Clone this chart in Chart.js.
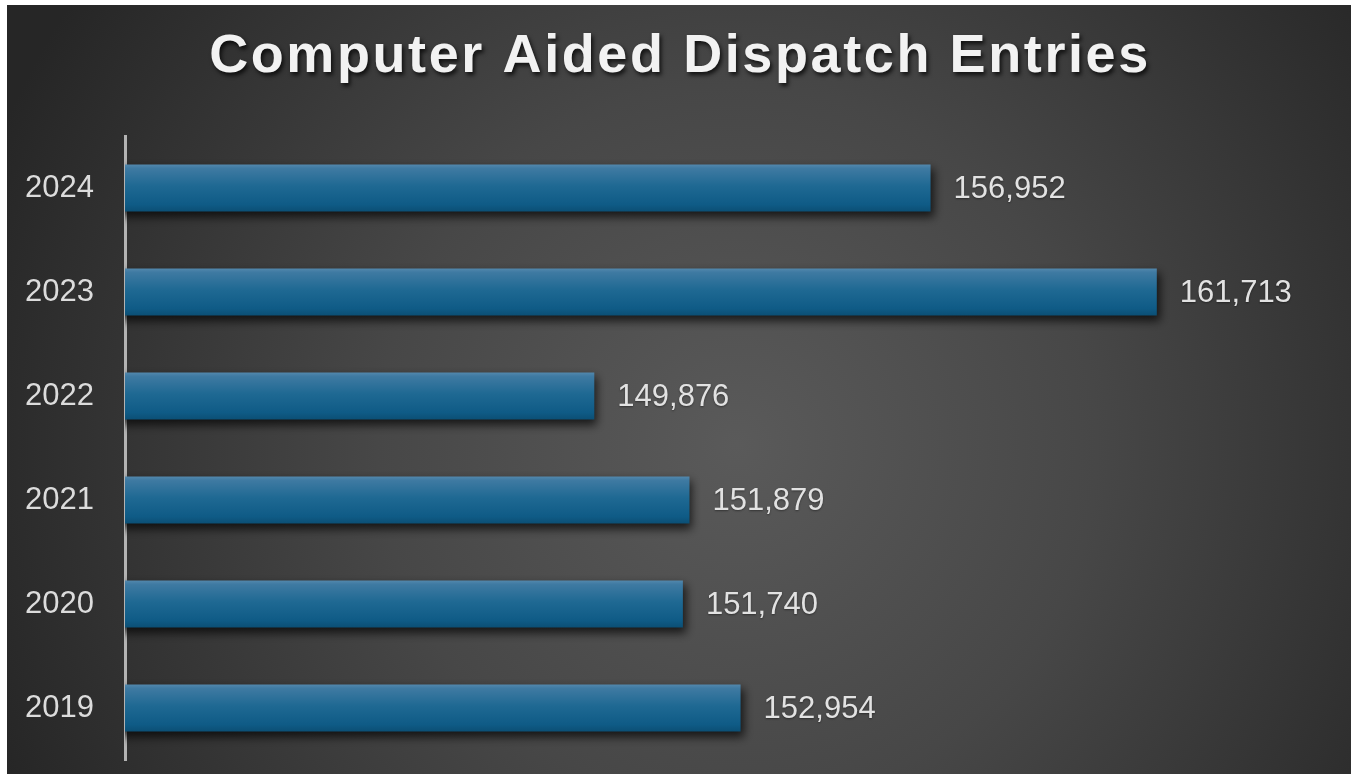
<!DOCTYPE html>
<html>
<head>
<meta charset="utf-8">
<title>Computer Aided Dispatch Entries</title>
<script src="https://cdn.jsdelivr.net/npm/chart.js@4/dist/chart.umd.min.js"></script>
<style>
  html, body { margin: 0; padding: 0; background: #ffffff; }
  #wrap { position: absolute; left: 7px; top: 5px; width: 1344px; height: 769px; }
</style>
</head>
<body>
<div id="wrap"><canvas id="myChart"></canvas></div>
<script>
const chartTitle = 'Computer Aided Dispatch Entries';
const years = ['2024', '2023', '2022', '2021', '2020', '2019'];
const entries = [156952, 161713, 149876, 151879, 151740, 152954];
const axisMin = 140000;
const axisMax = 165000;

/* dark radial backdrop */
const backdrop = {
  id: 'backdrop',
  beforeDraw(chart) {
    const ctx = chart.ctx;
    const w = chart.width, h = chart.height;
    const g = ctx.createRadialGradient(730, 440, 0, 730, 440, 800);
    g.addColorStop(0, '#5a5a5a');
    g.addColorStop(0.45, '#474747');
    g.addColorStop(1, '#262626');
    ctx.save();
    ctx.fillStyle = g;
    ctx.fillRect(0, 0, w, h);
    ctx.restore();
  }
};

/* spaced-out bold title with a drop shadow */
const bigTitle = {
  id: 'bigTitle',
  afterDraw(chart) {
    const ctx = chart.ctx;
    ctx.save();
    ctx.font = 'bold 54px "Liberation Sans", Arial, sans-serif';
    ctx.letterSpacing = '2.6px';
    ctx.textAlign = 'center';
    ctx.textBaseline = 'alphabetic';
    ctx.fillStyle = '#f2f2f2';
    ctx.shadowColor = 'rgba(0,0,0,0.75)';
    ctx.shadowBlur = 4;
    ctx.shadowOffsetX = 2;
    ctx.shadowOffsetY = 3;
    ctx.fillText(chartTitle, chart.width / 2 + 1, 67);
    ctx.restore();
  }
};

/* shadow under the bars */
const barShadow = {
  id: 'barShadow',
  beforeDatasetsDraw(chart) {
    const ctx = chart.ctx;
    ctx.save();
    ctx.shadowColor = 'rgba(0,0,0,0.7)';
    ctx.shadowBlur = 9;
    ctx.shadowOffsetX = 3;
    ctx.shadowOffsetY = 5;
  },
  afterDatasetsDraw(chart) {
    chart.ctx.restore();
  }
};

/* value at the end of each bar */
const valueLabels = {
  id: 'valueLabels',
  afterDatasetsDraw(chart) {
    const ctx = chart.ctx;
    const meta = chart.getDatasetMeta(0);
    ctx.save();
    ctx.font = '31px "Liberation Sans", Arial, sans-serif';
    ctx.fillStyle = '#e2e2e2';
    ctx.textAlign = 'left';
    ctx.textBaseline = 'middle';
    ctx.shadowColor = 'rgba(0,0,0,0.4)';
    ctx.shadowBlur = 2;
    ctx.shadowOffsetY = 1;
    meta.data.forEach(function (bar, i) {
      ctx.fillText(entries[i].toLocaleString('en-US'), bar.x + 23, bar.y + 1);
    });
    ctx.restore();
  }
};

function barFill(context) {
  const chart = context.chart;
  const yScale = chart.scales.y;
  if (!chart.chartArea || !yScale) return '#1b6690';
  const cy = yScale.getPixelForValue(context.dataIndex);
  const half = 23.5;
  const g = chart.ctx.createLinearGradient(0, cy - half, 0, cy + half);
  g.addColorStop(0, '#5388ad');
  g.addColorStop(0.08, '#3f7aa2');
  g.addColorStop(0.45, '#1f6993');
  g.addColorStop(0.85, '#0f5b86');
  g.addColorStop(1, '#0b4f75');
  return g;
}

const ctx1 = document.getElementById('myChart');
new Chart(ctx1, {
  type: 'bar',
  data: {
    labels: years,
    datasets: [{
      label: 'Entries',
      data: entries,
      backgroundColor: barFill,
      borderWidth: 0,
      categoryPercentage: 1,
      barPercentage: 0.452
    }]
  },
  options: {
    indexAxis: 'y',
    responsive: true,
    maintainAspectRatio: false,
    animation: false,
    layout: {
      padding: { top: 131, right: 38, bottom: 14, left: 18 }
    },
    plugins: {
      legend: { display: false },
      title: { display: false },
      tooltip: { enabled: false }
    },
    scales: {
      x: {
        display: false,
        min: axisMin,
        max: axisMax
      },
      y: {
        grid: { display: false, drawTicks: false },
        border: { display: true, color: '#b3b3b3', width: 3 },
        ticks: {
          color: '#dcdcdc',
          padding: 31,
          font: { family: '"Liberation Sans", Arial, sans-serif', size: 31 }
        },
        afterFit: function (axis) {
          // fixed label column, no extra space above/below the categories
          axis.width = 100;
          axis.paddingTop = 0;
          axis.paddingBottom = 0;
        }
      }
    }
  },
  plugins: [backdrop, barShadow, valueLabels, bigTitle]
});
</script>
</body>
</html>
